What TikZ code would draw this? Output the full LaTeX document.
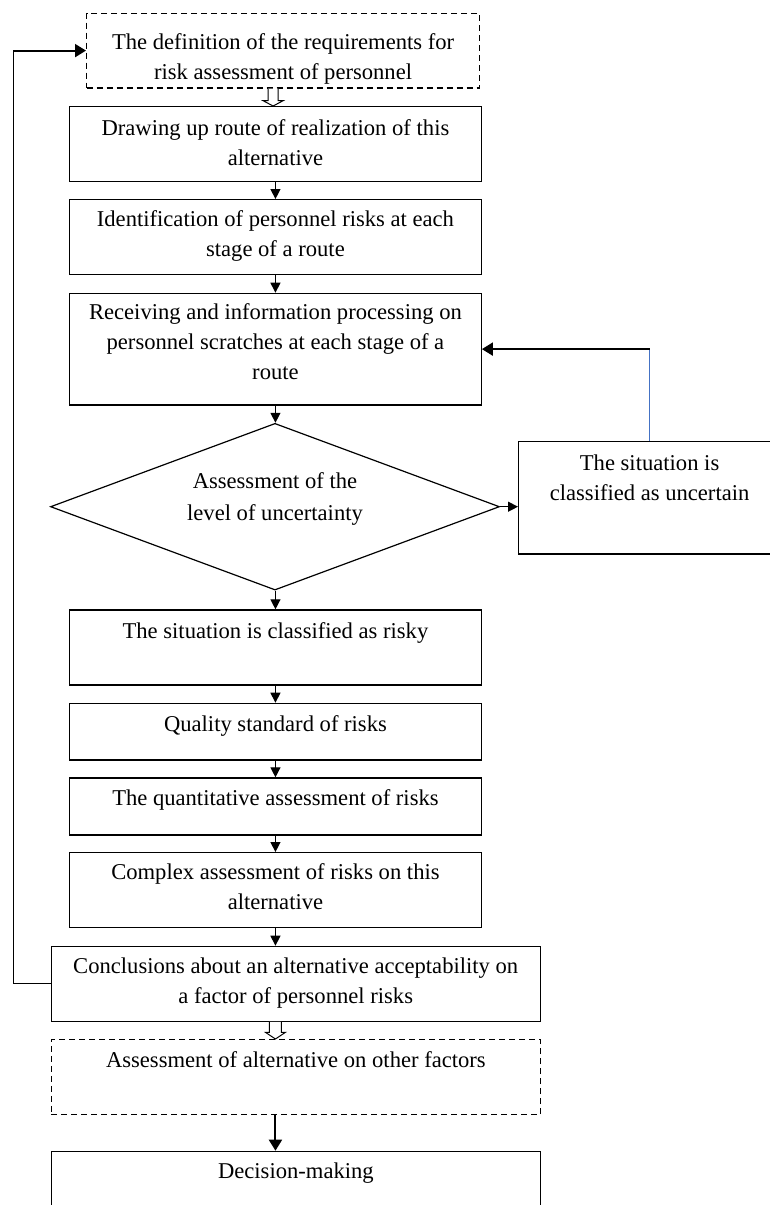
\documentclass[tikz,border=0pt]{standalone}
\usepackage{fontspec}
\setmainfont{Liberation Serif}
\usetikzlibrary{arrows.meta,shapes.geometric,calc}
\newcommand{\bx}[4]{\parbox[c][#2pt][t]{#1pt}{\centering\rule{0pt}{#3pt}#4\par}}
\definecolor{fbblue}{RGB}{68,114,196}
\tikzset{
  box/.style={draw, line width=1.2pt, inner sep=0pt, anchor=north west, font=\fontsize{22.6}{30}\selectfont},
  dbox/.style={box, dash pattern=on 6pt off 4pt},
  arr/.style={line width=1.3pt, -{Triangle[length=10pt,width=10pt]}},
  arrthick/.style={line width=2pt, -{Triangle[length=11pt,width=13pt]}},
  hollow/.style={draw, line width=1pt, fill=white, line join=miter},
  thinline/.style={line width=1pt},
  blueline/.style={line width=0.8pt, draw=fbblue},
}
\begin{document}
\begin{tikzpicture}[x=1pt,y=-1pt]
\useasboundingbox[fill=white] (0,0) rectangle (770,1205);

\node[dbox] (b1) at (86,12.7) {\bx{393}{74.6}{36}{The definition of the requirements for\\risk assessment of personnel}};
\node[box] (b2) at (69,106) {\bx{411.7}{74.7}{29}{Drawing up route of realization of this\\alternative}};
\node[box] (b3) at (69,199) {\bx{411.7}{75}{27}{Identification of personnel risks at each\\stage of a route}};
\node[box] (b4) at (69,292.7) {\bx{411.7}{111.6}{26}{Receiving and information processing on\\personnel scratches at each stage of a\\route}};
\node[draw, line width=1.2pt, shape=diamond, aspect=2.69, minimum width=449pt, minimum height=166.7pt, inner sep=0pt,
      label={[align=center, font=\fontsize{22.6}{32}\selectfont, yshift=8pt]center:Assessment of the\\level of uncertainty}] (dia) at (275,506.7) {};
\node[box] (unc) at (518,441) {\bx{262}{112.3}{29}{The situation is\\classified as uncertain}};
\node[box] (r1) at (69,609.3) {\bx{411.7}{75}{29}{The situation is classified as risky}};
\node[box] (q) at (69,702.7) {\bx{411.7}{56.6}{28}{Quality standard of risks}};
\node[box] (qa) at (69,777.3) {\bx{411.7}{57}{28}{The quantitative assessment of risks}};
\node[box] (cx) at (69,852) {\bx{411.7}{75}{27}{Complex assessment of risks on this\\alternative}};
\node[box] (cc) at (50.6,945.7) {\bx{489}{75}{27}{Conclusions about an alternative acceptability on\\a factor of personnel risks}};
\node[dbox] (d2) at (50.6,1039) {\bx{489.4}{75}{28}{Assessment of alternative on other factors}};
\node[box] (dm) at (50.6,1150.7) {\bx{489.4}{80}{27}{Decision-making}};

% hollow arrow b1 -> b2
\draw[hollow] let \p1=($(b1.south)+(-10,0)$), \p2=(b2.north) in
  (\x1-5pt,\y1) -- (\x1-5pt,\y2+5.3pt) -- (\x1-10pt,\y2+5.3pt) -- (\x1,\y2) -- (\x1+10pt,\y2+5.3pt) -- (\x1+5pt,\y2+5.3pt) -- (\x1+5pt,\y1);
% hollow arrow cc -> d2
\draw[hollow] let \p1=(cc.south -| b2.south), \p2=(d2.north) in
  (\x1-6pt,\y1) -- (\x1-6pt,\y2+6.7pt) -- (\x1-10pt,\y2+6.7pt) -- (\x1,\y2) -- (\x1+10pt,\y2+6.7pt) -- (\x1+6pt,\y2+6.7pt) -- (\x1+6pt,\y1);

\draw[arr] (b2.south) -- (b3.north);
\draw[arr] (b3.south) -- (b4.north);
\draw[arr] (b4.south) -- (dia.north -| b4.south);
\draw[arr] (dia.east) -- (dia.east -| unc.west);
\draw[arr] (dia.south -| r1.north) -- (r1.north);
\draw[arr] (r1.south) -- (q.north);
\draw[arr] (q.south) -- (qa.north);
\draw[arr] (qa.south) -- (cx.north);
\draw[arr] (cx.south) -- (cc.north -| cx.south);
\draw[arrthick] (d2.south -| b2.south) -- (dm.north -| b2.south);

% feedback from uncertain
\draw[blueline] (unc.north) -- (unc.north |- b4.east) coordinate (ut);
\draw[arrthick] (ut) -- (b4.east);

% feedback loop on left
\coordinate (lb) at ($(cc.west)+(-37.3,0)$);
\draw[thinline] (cc.west) -- (lb) -- (lb |- b1.west) coordinate (lt);
\draw[arrthick] (lt) -- (b1.west);
\end{tikzpicture}
\end{document}
